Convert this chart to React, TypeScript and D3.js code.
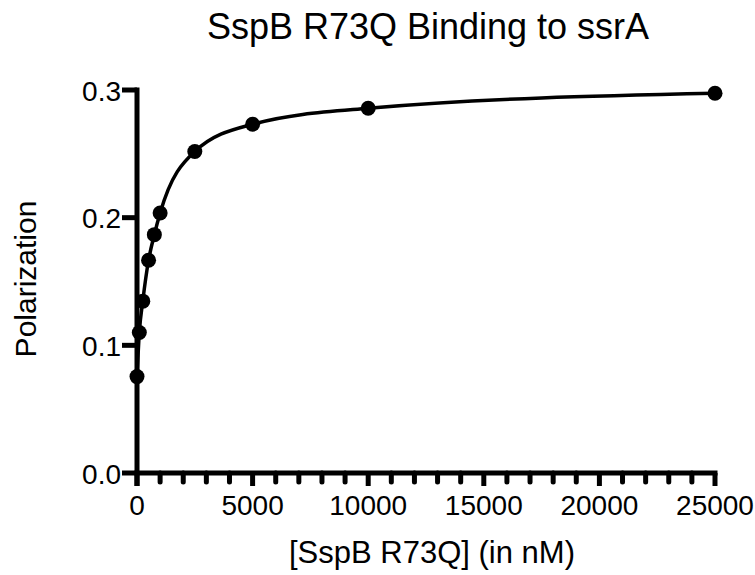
import React from "react";
import * as d3 from "d3";

const concentrations = [0, 100, 250, 500, 750, 1000, 2500, 5000, 10000, 25000];
const polarization = [0.0755, 0.110, 0.1346, 0.1666, 0.1867, 0.2036, 0.2518, 0.2732, 0.2857, 0.2974];
const xMajorTicks = [0, 5000, 10000, 15000, 20000, 25000];
const xMinorTicks = [1000, 2000, 3000, 4000, 6000, 7000, 8000, 9000, 11000, 12000, 13000, 14000, 16000, 17000, 18000, 19000, 21000, 22000, 23000, 24000];
const yTicks = [0, 0.1, 0.2, 0.3];
const yTickLabels = ["0.0", "0.1", "0.2", "0.3"];

const FONT = "'Liberation Sans', Arial, Helvetica, sans-serif";

export default function App() {
  const W = 755;
  const H = 575;
  const x = d3.scaleLinear().domain([0, 25000]).range([137, 715]);
  const y = d3.scaleLinear().domain([0, 0.3]).range([473, 90]);
  const pts = concentrations.map((c, i) => [x(c), y(polarization[i])] as [number, number]);
  const line = d3.line().curve(d3.curveMonotoneX)(pts) || "";
  const axisW = 5;
  return (
    <svg width={W} height={H} style={{ position: "absolute", left: 0, top: 0, background: "#fff" }}>
      <text x={428} y={39} textAnchor="middle" fontFamily={FONT} fontSize={36} fill="#000">
        SspB R73Q Binding to ssrA
      </text>
      <text
        transform={`translate(36,279) rotate(-90)`}
        textAnchor="middle"
        fontFamily={FONT}
        fontSize={30}
        fill="#000"
      >
        Polarization
      </text>
      <text x={432} y={563} textAnchor="middle" fontFamily={FONT} fontSize={31} fill="#000">
        [SspB R73Q] (in nM)
      </text>
      {/* y axis */}
      <line x1={x(0)} x2={x(0)} y1={y(0.3) - 2.5} y2={y(0) + 13} stroke="#000" strokeWidth={axisW} />
      {yTicks.map((t, i) => (
        <g key={"y" + t}>
          <line x1={122} x2={x(0)} y1={y(t)} y2={y(t)} stroke="#000" strokeWidth={axisW} />
          <text x={121} y={y(t) + 10.5} textAnchor="end" fontFamily={FONT} fontSize={28} fill="#000">
            {yTickLabels[i]}
          </text>
        </g>
      ))}
      {/* x axis */}
      <line x1={x(0) - 2.5} x2={x(25000) + 2.5} y1={y(0)} y2={y(0)} stroke="#000" strokeWidth={axisW} />
      {xMajorTicks.map((t) => (
        <g key={"x" + t}>
          <line x1={x(t)} x2={x(t)} y1={y(0)} y2={y(0) + 13} stroke="#000" strokeWidth={axisW} />
          <text x={x(t)} y={515} textAnchor="middle" fontFamily={FONT} fontSize={28} fill="#000">
            {t}
          </text>
        </g>
      ))}
      {xMinorTicks.map((t) => (
        <line key={"m" + t} x1={x(t)} x2={x(t)} y1={y(0)} y2={y(0) + 9} stroke="#000" strokeWidth={axisW} strokeLinecap="round" />
      ))}
      <path d={line} fill="none" stroke="#000" strokeWidth={3.5} />
      {pts.map((p, i) => (
        <circle key={i} cx={p[0]} cy={p[1]} r={7.5} fill="#000" />
      ))}
    </svg>
  );
}
